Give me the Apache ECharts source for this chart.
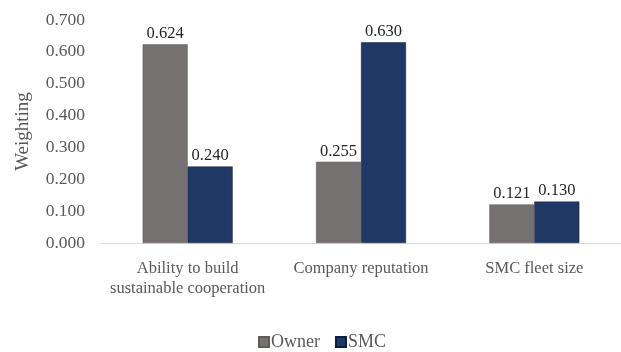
<!DOCTYPE html>
<html>
<head>
<meta charset="utf-8">
<script src="https://cdn.jsdelivr.net/npm/echarts@6/dist/echarts.min.js"></script>
<style>
html,body{margin:0;padding:0;background:#fff;}
#chart{width:621px;height:352px;}
</style>
</head>
<body>
<div id="chart"></div>
<script>
var categories = ['Ability to build\nsustainable cooperation', 'Company reputation', 'SMC fleet size'];
var owner = [0.624, 0.255, 0.121];
var smc = [0.240, 0.630, 0.130];

var font = '"Liberation Serif", "Times New Roman", serif';
var myChart = echarts.init(document.getElementById('chart'));
var option = {
	animation: false,
	textStyle: { fontFamily: font },
	grid: { left: 101, top: 20, width: 525, height: 223 },
	legend: {
		top: 333,
		left: 258,
		padding: 0,
		itemWidth: 10,
		itemHeight: 10,
		itemGap: 15,
		icon: 'rect',
		textStyle: { fontFamily: font, fontSize: 18, color: '#595959', padding: [0, 0, 0, -3] },
		data: ['Owner', 'SMC']
	},
	xAxis: {
		type: 'category',
		data: categories,
		axisLine: { lineStyle: { color: '#d9d9d9', width: 1 } },
		axisTick: { show: false },
		axisLabel: { interval: 0, fontFamily: font, fontSize: 16.5, color: '#595959', margin: 16, lineHeight: 20 }
	},
	yAxis: {
		type: 'value',
		min: 0,
		max: 0.7,
		interval: 0.1,
		name: 'Weighting',
		nameLocation: 'middle',
		nameGap: 68,
		nameTextStyle: { fontFamily: font, fontSize: 19, color: '#595959' },
		axisLine: { show: false },
		axisTick: { show: false },
		splitLine: { show: false },
		axisLabel: {
			fontFamily: font, fontSize: 17.5, color: '#595959', margin: 16,
			formatter: function (v) { return v.toFixed(3); }
		}
	},
	series: [{
		name: 'Owner',
		type: 'bar',
		data: owner,
		barWidth: 45,
		barGap: '0%',
		itemStyle: { color: '#767171', borderColor: '#5f5b5b', borderWidth: 0.5 },
		label: { show: true, position: 'top', distance: 2, fontFamily: font, fontSize: 16.5, color: '#262626',
			formatter: function (p) { return p.value.toFixed(3); } }
	}, {
		name: 'SMC',
		type: 'bar',
		data: smc,
		barWidth: 45,
		itemStyle: { color: '#1f3864', borderColor: '#0f1f40', borderWidth: 0.5 },
		label: { show: true, position: 'top', distance: 2, fontFamily: font, fontSize: 16.5, color: '#262626',
			formatter: function (p) { return p.value.toFixed(3); } }
	}]
};
myChart.setOption(option);
</script>
</body>
</html>
